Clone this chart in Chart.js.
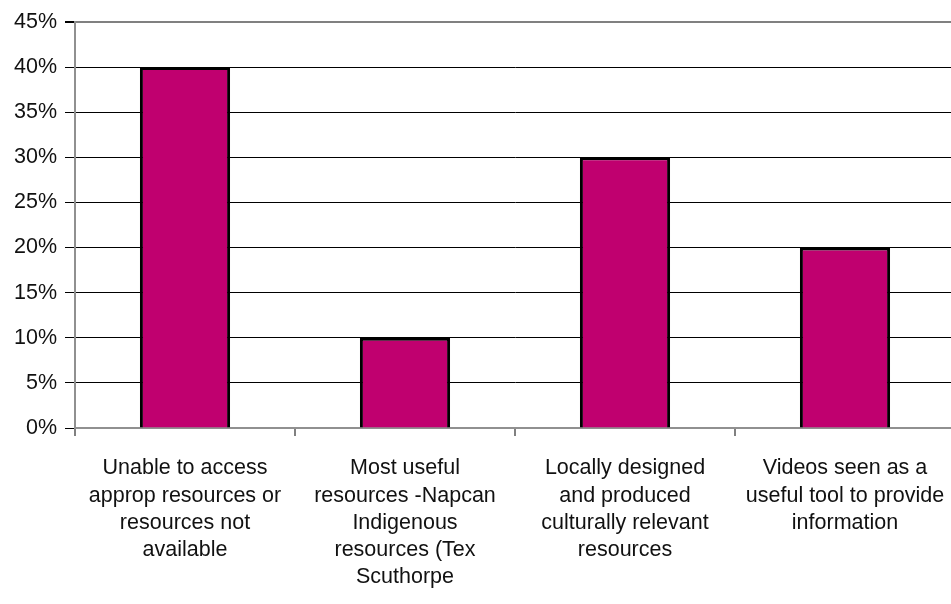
<!DOCTYPE html>
<html>
<head>
<meta charset="utf-8">
<script src="https://cdn.jsdelivr.net/npm/chart.js@4/dist/chart.umd.min.js"></script>
<style>
html,body{margin:0;padding:0;overflow:hidden;background:#fff;}
#wrap{position:relative;width:1000px;height:604px;}
</style>
</head>
<body>
<div id="wrap"><canvas id="c"></canvas></div>
<script>
const categories = [
  ["Unable to access", "approp resources or", "resources not", "available"],
  ["Most useful", "resources -Napcan", "Indigenous", "resources (Tex", "Scuthorpe"],
  ["Locally designed", "and produced", "culturally relevant", "resources"],
  ["Videos seen as a", "useful tool to provide", "information"]
];
const values = [40, 10, 30, 20];
const yTicks = [0, 5, 10, 15, 20, 25, 30, 35, 40, 45];

const FONT = "'Liberation Sans', Arial, Helvetica, sans-serif";

new Chart(document.getElementById('c'), {
  type: 'bar',
  data: {
    labels: categories,
    datasets: [{
      data: values,
      backgroundColor: '#C0006F',
      borderColor: '#000',
      borderWidth: 3,
      barPercentage: 0.41,
      categoryPercentage: 1.0
    }]
  },
  options: {
    responsive: true,
    maintainAspectRatio: false,
    animation: false,
    layout: { padding: { left: 0, top: 22, right: 45, bottom: 0 } },
    plugins: { legend: { display: false }, tooltip: { enabled: false } },
    scales: {
      x: {
        grid: {
          offset: true,
          drawOnChartArea: false,
          drawTicks: true,
          tickLength: 8,
          color: '#808080',
          lineWidth: 2
        },
        border: { display: true, color: '#909090', width: 2 },
        ticks: {
          color: '#111',
          font: { family: FONT, size: 21.5, lineHeight: 1.26 },
          padding: 19,
          maxRotation: 0,
          minRotation: 0,
          autoSkip: false
        },
        afterFit: (s) => { s.height = 176; }
      },
      y: {
        min: 0,
        max: 45,
        afterBuildTicks: (s) => { s.ticks = yTicks.map(v => ({ value: v })); },
        grid: {
          color: (ctx) => ctx.tick && ctx.tick.value === 45 ? '#808080' : '#000',
          lineWidth: (ctx) => ctx.tick && ctx.tick.value === 45 ? 2 : 1,
          tickLength: 10,
          tickColor: '#000'
        },
        border: { display: true, color: '#909090', width: 2 },
        ticks: {
          color: '#111',
          font: { family: FONT, size: 21.5 },
          padding: 8,
          callback: (v) => v + '%'
        },
        afterFit: (s) => { s.width = 75; }
      }
    }
  }
});
</script>
</body>
</html>
